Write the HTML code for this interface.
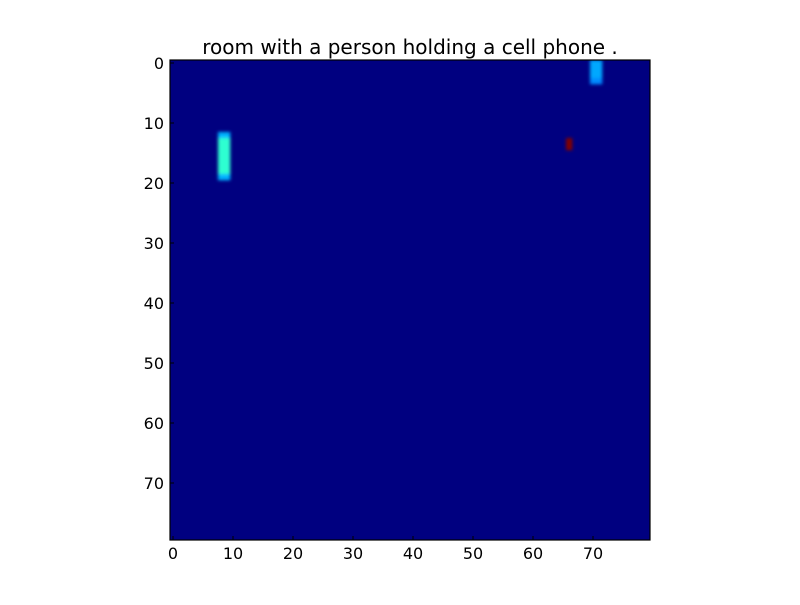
<!DOCTYPE html>
<html><head><meta charset="utf-8"><style>
body{margin:0;background:#fff;width:800px;height:600px;overflow:hidden}
text{font-family:"DejaVu Sans","Liberation Sans",sans-serif;font-size:16px;fill:#000}
</style></head><body>
<svg id="c" width="800" height="600">
<defs>
<clipPath id="clip"><rect x="170" y="60" width="480" height="480"/></clipPath>
<filter id="blur" x="-50%" y="-50%" width="200%" height="200%"><feGaussianBlur stdDeviation="1.6"/></filter>
</defs>
<text x="410" y="54" text-anchor="middle" style="font-size:20px">room with a person holding a cell phone .</text>
<rect x="170" y="60" width="480" height="480" fill="#000080"/>
<g id="cells" clip-path="url(#clip)" filter="url(#blur)"></g>
<rect x="170" y="60" width="480" height="480" fill="none" stroke="#000" stroke-width="1.2"/>
<g id="axes"></g>
</svg>
<script>
const nCols=80, nRows=80;
// non-zero cells: row, col, value (0..1 on jet scale)
const cellRows=[12,13,14,15,16,17,18,19,12,13,14,15,16,17,18,19, 0,1,2,3,0,1,2,3, 13,14];
const cellCols=[8,8,8,8,8,8,8,8,9,9,9,9,9,9,9,9, 70,70,70,70,71,71,71,71, 66,66];
const cellVals=[0.3,0.42,0.42,0.42,0.42,0.42,0.42,0.3,0.3,0.42,0.42,0.42,0.42,0.42,0.42,0.3, 0.29,0.29,0.29,0.26,0.29,0.29,0.29,0.26, 1.0,1.0];
const xTicks=[0,10,20,30,40,50,60,70];
const yTicks=[0,10,20,30,40,50,60,70];
const X0=170,Y0=60,W=480,H=480;
const xs=c=>X0+c*W/nCols, ys=r=>Y0+r*H/nRows;
function jet(v){
  const cl=t=>Math.min(Math.max(t,0),1);
  const r=cl(1.5-Math.abs(4*v-3)), g=cl(1.5-Math.abs(4*v-2)), b=cl(1.5-Math.abs(4*v-1));
  return `rgb(${Math.round(r*255)},${Math.round(g*255)},${Math.round(b*255)})`;
}
const ns="http://www.w3.org/2000/svg";
const g=document.getElementById('cells');
cellVals.forEach((v,i)=>{
  const r=document.createElementNS(ns,'rect');
  r.setAttribute('x',xs(cellCols[i]));r.setAttribute('y',ys(cellRows[i]));
  r.setAttribute('width',W/nCols+0.3);r.setAttribute('height',H/nRows+0.3);
  r.setAttribute('fill',jet(v));
  
  
  g.appendChild(r);
});
const a=document.getElementById('axes');
xTicks.forEach(t=>{
  const x=xs(t+0.5);
  const l=document.createElementNS(ns,'line');
  l.setAttribute('x1',x);l.setAttribute('x2',x);l.setAttribute('y1',540);l.setAttribute('y2',536);l.setAttribute('stroke','#000');
  
  
  a.appendChild(l);
  const tx=document.createElementNS(ns,'text');
  tx.setAttribute('x',x);tx.setAttribute('y',559);tx.setAttribute('text-anchor','middle');tx.textContent=t;
  
  
  a.appendChild(tx);
});
yTicks.forEach(t=>{
  const y=ys(t+0.5);
  const l=document.createElementNS(ns,'line');
  l.setAttribute('x1',170);l.setAttribute('x2',174);l.setAttribute('y1',y);l.setAttribute('y2',y);l.setAttribute('stroke','#000');
  
  
  a.appendChild(l);
  const tx=document.createElementNS(ns,'text');
  tx.setAttribute('x',164);tx.setAttribute('y',y+6);tx.setAttribute('text-anchor','end');tx.textContent=t;
  
  
  a.appendChild(tx);
});
</script>
</body></html>
